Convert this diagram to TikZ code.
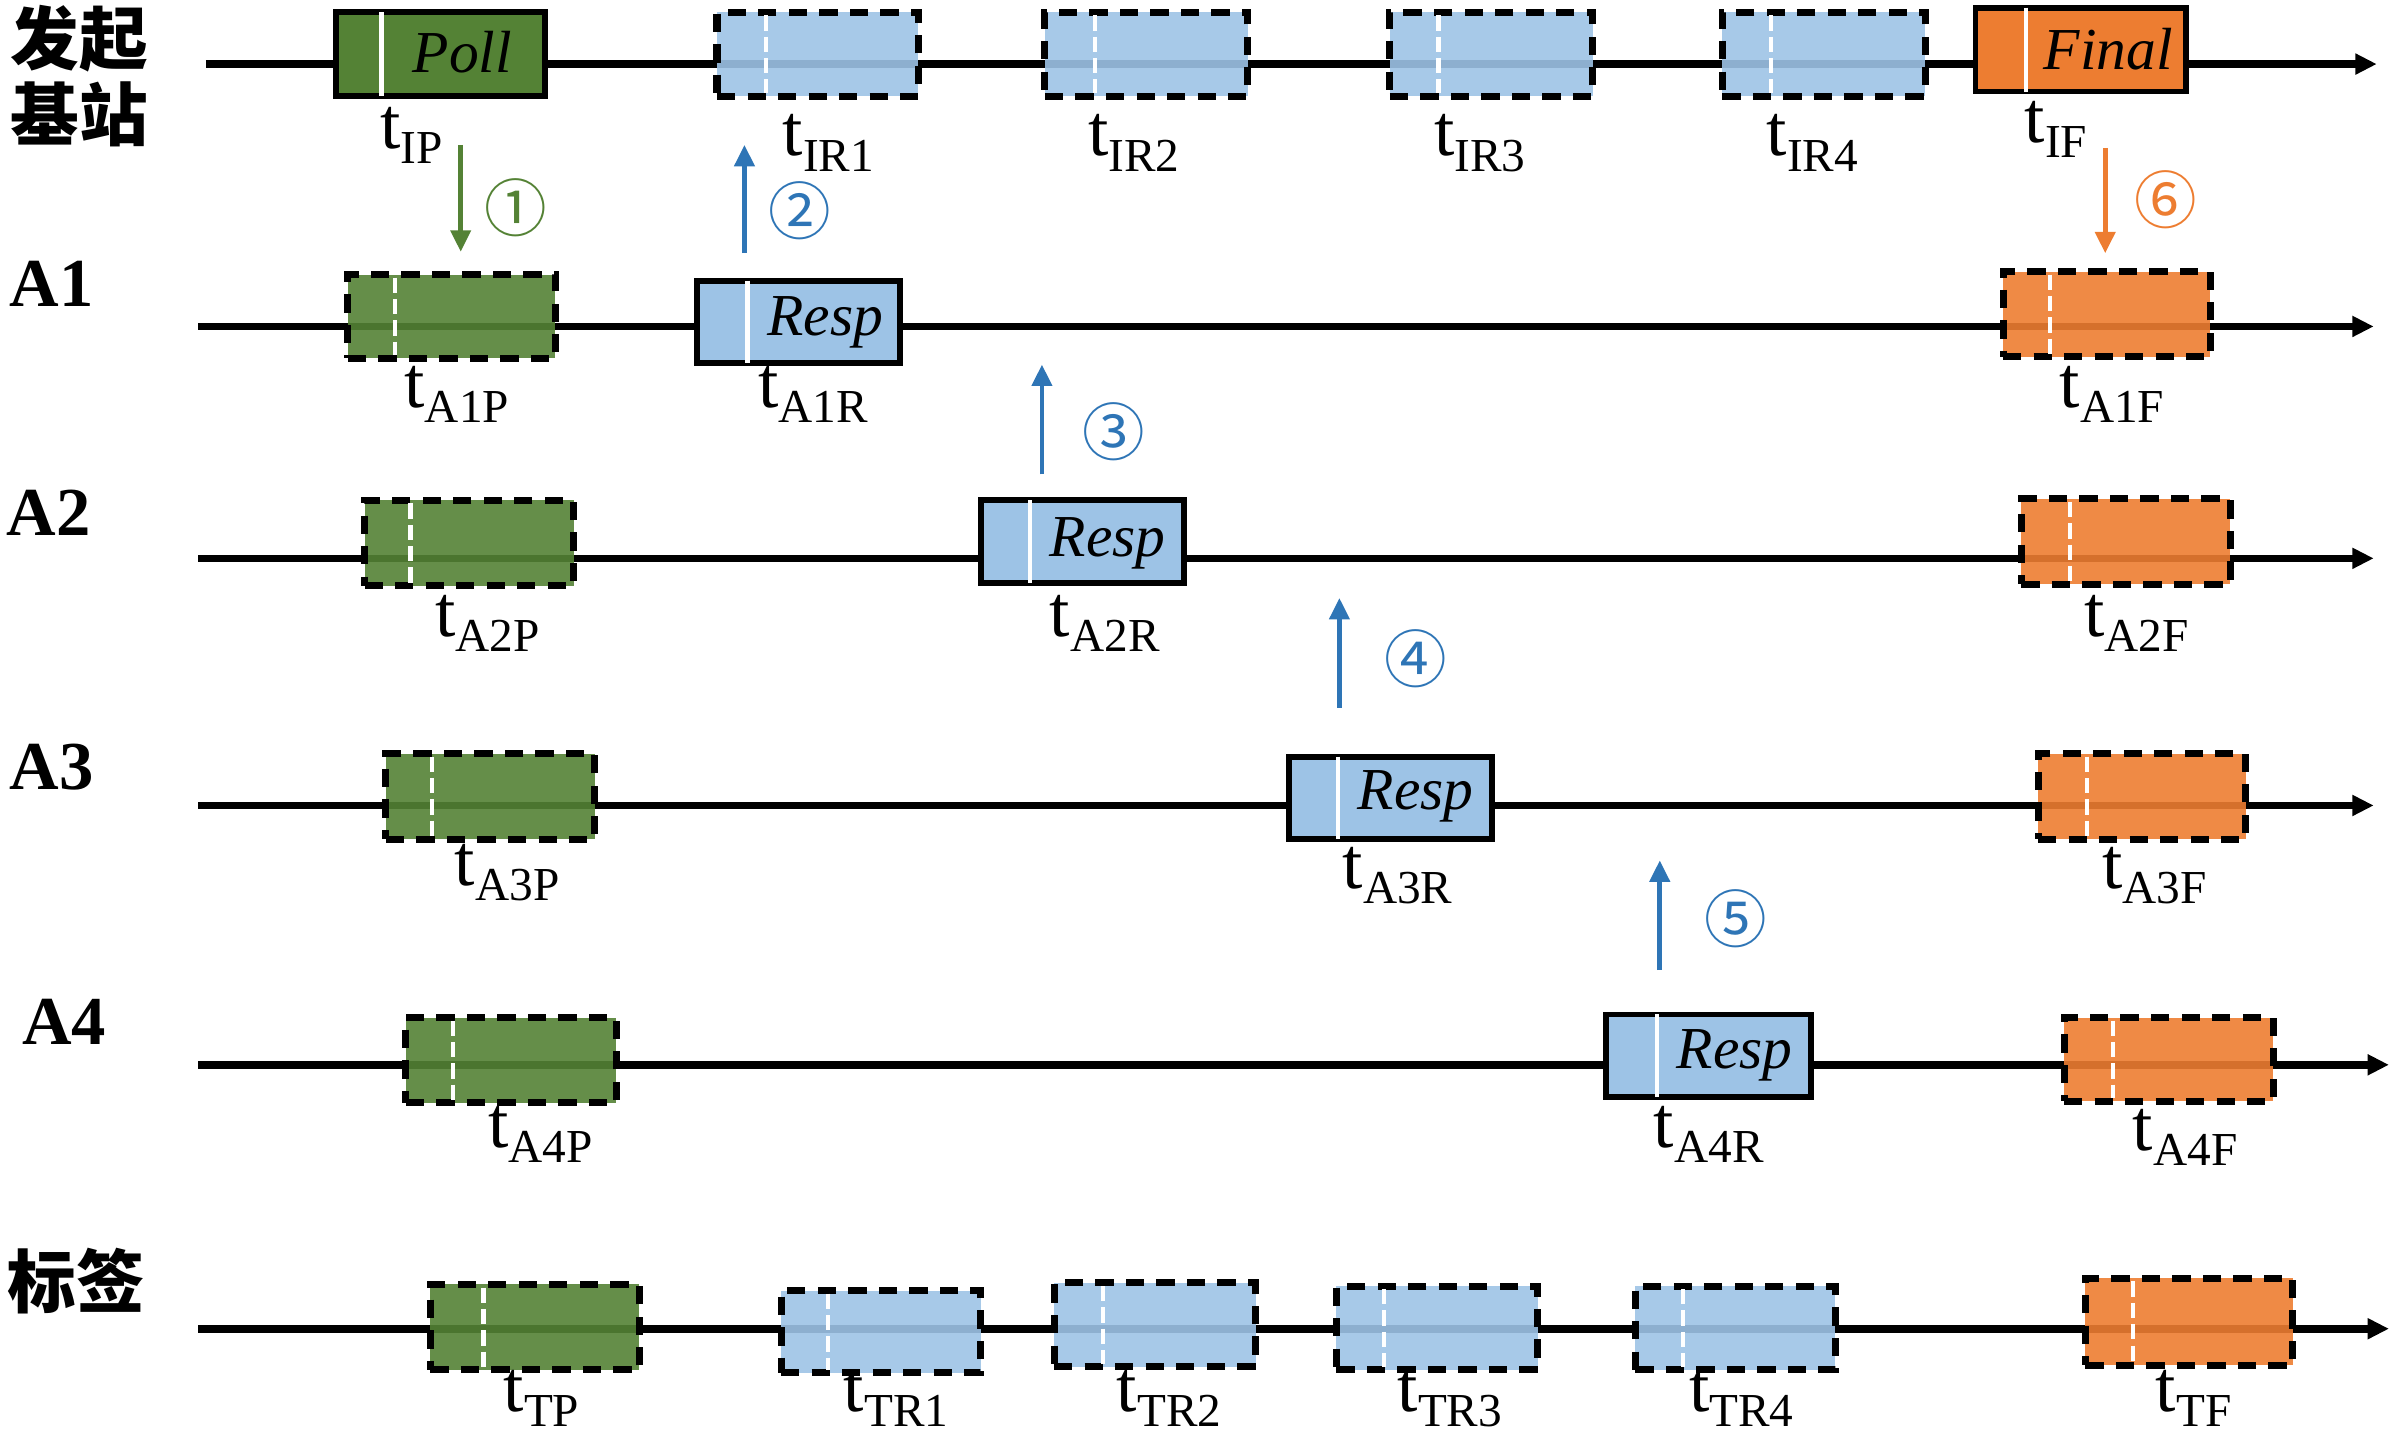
\documentclass[tikz,border=0pt]{standalone}
\usepackage{fontspec}
\setmainfont{Liberation Serif}
\newfontfamily\cjk{Noto Sans CJK SC}
\usetikzlibrary{arrows.meta}
\definecolor{gS}{HTML}{548235}
\definecolor{bS}{HTML}{9DC3E6}
\definecolor{oS}{HTML}{ED7D31}
\definecolor{bA}{HTML}{2E75B6}
\tikzset{
  tline/.style={line width=5pt,-{Triangle[length=14pt,width=13pt]}},
  boxsolid/.style={draw=black,line width=3.8pt,inner sep=0pt,outer sep=0pt},
  boxdash/.style={draw=black,line width=4.6pt,dash pattern=on 12pt off 8pt,fill opacity=0.9,inner sep=0pt,outer sep=0pt},
  wsolid/.style={white,line width=2.8pt},
  wdash/.style={white,line width=2.8pt,dash pattern=on 10pt off 4pt},
  msg/.style={font=\itshape\fontsize{39}{39}\selectfont,inner sep=0pt},
  tlab/.style={anchor=north west,inner sep=0pt,font=\fontsize{48}{48}\selectfont},
  rowlab/.style={font=\bfseries\fontsize{45}{45}\selectfont,inner sep=0pt},
  zhlab/.style={font=\cjk\bfseries\fontsize{45}{50}\selectfont,inner sep=0pt,align=center},
  circ/.style={font=\cjk\fontsize{41}{41}\selectfont,inner sep=0pt},
  marr/.style={line width=3pt,-{Triangle[length=14pt,width=13pt]}},
}
% name, x1, x2, y1, y2, white x, style, fill
\newcommand\mkbox[8]{%
  \node[#7,fill=#8,minimum width={(#3-#2)*1pt},minimum height={(#5-#4)*1pt}] (#1) at ({(#2+#3)/2},{(#4+#5)/2}) {};
}
\newcommand\mklab[4]{%
  \node[tlab] (#1) at (#2,#3) {t\raisebox{-10pt}{\fontsize{31}{31}\selectfont #4}};
}
\begin{document}
\begin{tikzpicture}[x=1pt,y=-1pt]
\useasboundingbox (0,0) rectangle (1568,952);

% row labels
\node[zhlab] (lbBS) at (52,50) {发起\\基站};
\node[rowlab] (lbA1) at (34,186) {A1};
\node[rowlab] (lbA2) at (32,336) {A2};
\node[rowlab] (lbA3) at (34,503) {A3};
\node[rowlab] (lbA4) at (42,670) {A4};
\node[zhlab] (lbT) at (50,840) {标签};

% timelines
\coordinate (l0s) at (135,42);  \coordinate (l0e) at (1558,42);
\coordinate (l1s) at (130,214); \coordinate (l1e) at (1556,214);
\coordinate (l2s) at (130,366); \coordinate (l2e) at (1556,366);
\coordinate (l3s) at (130,528); \coordinate (l3e) at (1556,528);
\coordinate (l4s) at (130,698); \coordinate (l4e) at (1566,698);
\coordinate (l5s) at (130,871); \coordinate (l5e) at (1566,871);
\foreach \i in {0,...,5} { \draw[tline] (l\i s) -- (l\i e); }

% ---- row 0: initiator
\mkbox{poll}{220}{357}{8}{63}{250}{boxsolid}{gS}
\draw[wsolid] (250,8) -- (250,63);
\node[msg] (pollt) at (303,34) {Poll};
\mkbox{ir1}{470}{602}{8}{63}{502}{boxdash}{bS}
\draw[wdash] (502,10) -- (502,61);
\mkbox{ir2}{685}{818}{8}{63}{718}{boxdash}{bS}
\draw[wdash] (718,10) -- (718,61);
\mkbox{ir3}{911}{1044}{8}{63}{943}{boxdash}{bS}
\draw[wdash] (943,10) -- (943,61);
\mkbox{ir4}{1129}{1262}{8}{63}{1161}{boxdash}{bS}
\draw[wdash] (1161,10) -- (1161,61);
\mkbox{final}{1295}{1433}{5}{60}{1328}{boxsolid}{oS}
\draw[wsolid] (1328,5) -- (1328,60);
\node[msg] (finalt) at (1382,32) {Final};

\mklab{tIP}{249}{70}{IP}
\mklab{tIR1}{513}{75}{IR1}
\mklab{tIR2}{713}{75}{IR2}
\mklab{tIR3}{940}{75}{IR3}
\mklab{tIR4}{1158}{75}{IR4}
\mklab{tIF}{1327}{66}{IF}

% ---- row A1
\mkbox{a1p}{228}{364}{180}{235}{259}{boxdash}{gS}
\draw[wdash] (259,182) -- (259,233);
\mkbox{a1r}{457}{590}{184}{238}{490}{boxsolid}{bS}
\draw[wsolid] (490,184) -- (490,238);
\node[msg] (a1rt) at (541,211) {Resp};
\mkbox{a1f}{1313}{1449}{178}{234}{1344}{boxdash}{oS}
\draw[wdash] (1344,180) -- (1344,232);
\mklab{tA1P}{265}{240}{A1P}
\mklab{tA1R}{497}{240}{A1R}
\mklab{tA1F}{1350}{240}{A1F}

% ---- row A2
\mkbox{a2p}{239}{376}{328}{384}{269}{boxdash}{gS}
\draw[wdash] (269,330) -- (269,382);
\mkbox{a2r}{643}{776}{328}{382}{675}{boxsolid}{bS}
\draw[wsolid] (675,328) -- (675,382);
\node[msg] (a2rt) at (726,356) {Resp};
\mkbox{a2f}{1325}{1462}{327}{383}{1357}{boxdash}{oS}
\draw[wdash] (1357,329) -- (1357,381);
\mklab{tA2P}{285}{390}{A2P}
\mklab{tA2R}{688}{390}{A2R}
\mklab{tA2F}{1366}{390}{A2F}

% ---- row A3
\mkbox{a3p}{253}{390}{494}{550}{283}{boxdash}{gS}
\draw[wdash] (283,496) -- (283,548);
\mkbox{a3r}{845}{978}{496}{550}{877}{boxsolid}{bS}
\draw[wsolid] (877,496) -- (877,550);
\node[msg] (a3rt) at (928,522) {Resp};
\mkbox{a3f}{1336}{1472}{494}{550}{1368}{boxdash}{oS}
\draw[wdash] (1368,496) -- (1368,548);
\mklab{tA3P}{298}{553}{A3P}
\mklab{tA3R}{880}{555}{A3R}
\mklab{tA3F}{1378}{555}{A3F}

% ---- row A4
\mkbox{a4p}{266}{404}{667}{723}{297}{boxdash}{gS}
\draw[wdash] (297,669) -- (297,721);
\mkbox{a4r}{1053}{1187}{665}{719}{1086}{boxsolid}{bS}
\draw[wsolid] (1086,665) -- (1086,719);
\node[msg] (a4rt) at (1137,692) {Resp};
\mkbox{a4f}{1353}{1490}{667}{722}{1385}{boxdash}{oS}
\draw[wdash] (1385,669) -- (1385,720);
\mklab{tA4P}{320}{725}{A4P}
\mklab{tA4R}{1084}{725}{A4R}
\mklab{tA4F}{1398}{727}{A4F}

% ---- row tag
\mkbox{tp}{282}{419}{842}{898}{317}{boxdash}{gS}
\draw[wdash] (317,844) -- (317,896);
\mkbox{tr1}{512}{643}{846}{900}{543}{boxdash}{bS}
\draw[wdash] (543,848) -- (543,898);
\mkbox{tr2}{691}{823}{841}{896}{723}{boxdash}{bS}
\draw[wdash] (723,843) -- (723,894);
\mkbox{tr3}{876}{1008}{843}{898}{907}{boxdash}{bS}
\draw[wdash] (907,845) -- (907,896);
\mkbox{tr4}{1072}{1203}{843}{898}{1103}{boxdash}{bS}
\draw[wdash] (1103,845) -- (1103,896);
\mkbox{tf}{1367}{1503}{838}{895}{1398}{boxdash}{oS}
\draw[wdash] (1398,840) -- (1398,893);
\mklab{tTP}{330}{898}{TP}
\mklab{tTR1}{553}{898}{TR1}
\mklab{tTR2}{732}{898}{TR2}
\mklab{tTR3}{916}{898}{TR3}
\mklab{tTR4}{1107}{898}{TR4}
\mklab{tTF}{1413}{898}{TF}

% ---- message arrows
\coordinate (m1s) at (302,95);   \coordinate (m1e) at (302,165);
\coordinate (m2s) at (488,166);  \coordinate (m2e) at (488,95);
\coordinate (m3s) at (683,311);  \coordinate (m3e) at (683,239);
\coordinate (m4s) at (878,464);  \coordinate (m4e) at (878,392);
\coordinate (m5s) at (1088,636); \coordinate (m5e) at (1088,564);
\coordinate (m6s) at (1380,97);  \coordinate (m6e) at (1380,166);
\draw[marr,gS] (m1s) -- (m1e);
\draw[marr,bA] (m2s) -- (m2e);
\draw[marr,bA] (m3s) -- (m3e);
\draw[marr,bA] (m4s) -- (m4e);
\draw[marr,bA] (m5s) -- (m5e);
\draw[marr,oS] (m6s) -- (m6e);
\node[circ,text=gS] (c1) at (338,136) {①};
\node[circ,text=bA] (c2) at (524,138) {②};
\node[circ,text=bA] (c3) at (730,283) {③};
\node[circ,text=bA] (c4) at (928,432) {④};
\node[circ,text=bA] (c5) at (1138,602) {⑤};
\node[circ,text=oS] (c6) at (1420,131) {⑥};
\end{tikzpicture}
\end{document}
